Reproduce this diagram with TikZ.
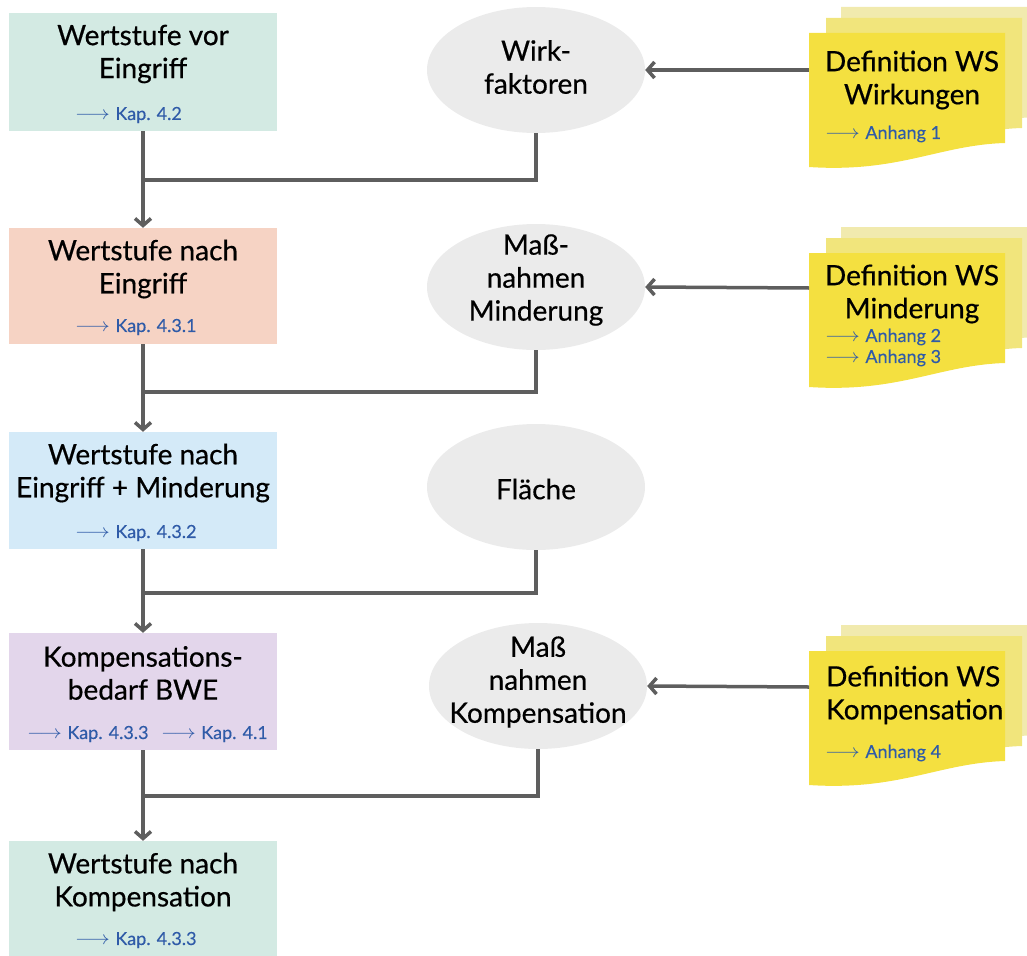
\documentclass[tikz,border=0pt]{standalone}
\usepackage{fontspec}
\setmainfont{Lato}
\newfontfamily\medfont{Lato}[FakeBold=0.5]
\newfontfamily\kapfont{Lato}[FakeBold=0.25]
\usetikzlibrary{shapes.geometric,arrows.meta}
\definecolor{tealbox}{HTML}{D3EAE3}
\definecolor{salmonbox}{HTML}{F6D3C4}
\definecolor{bluebox}{HTML}{D4EAF8}
\definecolor{lavbox}{HTML}{E3D6EB}
\definecolor{ovalgray}{HTML}{EBEBEB}
\definecolor{linegray}{HTML}{5E5E5E}
\definecolor{kapblue}{HTML}{2F5BA8}
\definecolor{docfront}{HTML}{F4E040}
\definecolor{docmid}{HTML}{F1E57C}
\definecolor{docback}{HTML}{F1EAAE}
\newcommand\wsdoc[3]{%
  \fill[#3] (#1,#2) -- (#1+196,#2) -- (#1+196,#2+110)
    .. controls (#1+130,#2+112) and (#1+90,#2+140) .. (#1,#2+134) -- cycle;}
\newcommand\kaparrow{\scalebox{1.25}[1.1]{$\longrightarrow$}\hspace{0.3em}}
\begin{document}
\begin{tikzpicture}[x=1pt,y=-1pt,
  box/.style={rectangle, draw=none, minimum width=268pt, inner sep=0pt},
  title/.style={align=center, font=\medfont\fontsize{28}{33}\selectfont, inner sep=0pt},
  kap/.style={font=\kapfont\fontsize{18}{21}\selectfont, text=kapblue, inner sep=0pt, anchor=west},
  oval/.style={ellipse, fill=ovalgray, minimum width=218pt, minimum height=126pt, inner sep=0pt},
  conn/.style={draw=linegray, line width=3.5pt},
  arr/.style={conn, -{Straight Barb[length=7pt,width=16pt]}},
]
\useasboundingbox (0,0) rectangle (1027,955);
\clip (0,0) rectangle (1027,955);

% left boxes
\node[box, fill=tealbox, minimum height=118pt] (b1) at (143,72) {};
\node[title] (t1) at (143,54) {Wertstufe vor\\Eingriff};
\node[kap] (k1) at (75,115) {\kaparrow Kap. 4.2};

\node[box, fill=salmonbox, minimum height=116pt] (b2) at (143,286) {};
\node[title] (t2) at (143,269) {Wertstufe nach\\Eingriff};
\node[kap] (k2) at (75,327) {\kaparrow Kap. 4.3.1};

\node[box, fill=bluebox, minimum height=117pt] (b3) at (143,490.5) {};
\node[title] (t3) at (143,473) {Wertstufe nach\\Eingriff + Minderung};
\node[kap] (k3) at (75,533) {\kaparrow Kap. 4.3.2};

\node[box, fill=lavbox, minimum height=117pt] (b4) at (143,691.5) {};
\node[title] (t4) at (143,673) {Kompensations-\\bedarf BWE};
\node[kap] (k4) at (27,734) {\kaparrow Kap. 4.3.3\hspace{0.7em}\kaparrow Kap. 4.1};

\node[box, fill=tealbox, minimum height=116pt] (b5) at (143,899) {};
\node[title] (t5) at (143,882) {Wertstufe nach\\Kompensation};
\node[kap] (k5) at (75,940) {\kaparrow Kap. 4.3.3};

% ellipses
\node[oval] (e1) at (536,70) {};
\node[title] (et1) at (536,67) {Wirk-\\faktoren};
\node[oval] (e2) at (536,287) {};
\node[title] (et2) at (536,280) {Maß-\\nahmen\\Minderung};
\node[oval] (e3) at (536,487) {};
\node[title] (et3) at (536,489) {Fläche};
\node[oval] (e4) at (538,686) {};
\node[title] (et4) at (538,682) {Maß\\nahmen\\Kompensation};

% documents
\wsdoc{841}{7}{docback}
\wsdoc{826}{18}{docmid}
\wsdoc{809}{33}{docfront}
\node[title] (dt1) at (912,80) {Definition WS\\Wirkungen};
\node[kap] (da1) at (825,134) {\kaparrow Anhang 1};

\wsdoc{841}{227}{docback}
\wsdoc{826}{238}{docmid}
\wsdoc{809}{253}{docfront}
\node[title] (dt2) at (912,294) {Definition WS\\Minderung};
\node[kap] (da2) at (825,337) {\kaparrow Anhang 2};
\node[kap] (da3) at (825,358) {\kaparrow Anhang 3};

\wsdoc{841}{625}{docback}
\wsdoc{826}{636}{docmid}
\wsdoc{809}{651}{docfront}
\node[title, align=left, anchor=west] (dt3) at (826,695) {Definition WS\\Kompensation};
\node[kap] (da4) at (825,753) {\kaparrow Anhang 4};

% connector points
\coordinate (j1) at (144,180);
\coordinate (j2) at (144,392);
\coordinate (j3) at (144,593);
\coordinate (j4) at (144,796);
\coordinate (d1) at (809,70);
\coordinate (d2) at (809,288);
\coordinate (d3) at (809,687);

% connectors
\draw[arr] (b1.south) -- (b2.north);
\draw[arr] (b2.south) -- (b3.north);
\draw[arr] (b3.south) -- (b4.north);
\draw[arr] (b4.south) -- (b5.north);
\draw[conn] (e1.south) |- (j1);
\draw[conn] (e2.south) |- (j2);
\draw[conn] (e3.south) |- (j3);
\draw[conn] (e4.south) |- (j4);
\draw[arr] (d1) -- (e1.east);
\draw[arr] (d2) -- (e2.east);
\draw[arr] (d3) -- (e4.east);
\end{tikzpicture}
\end{document}
